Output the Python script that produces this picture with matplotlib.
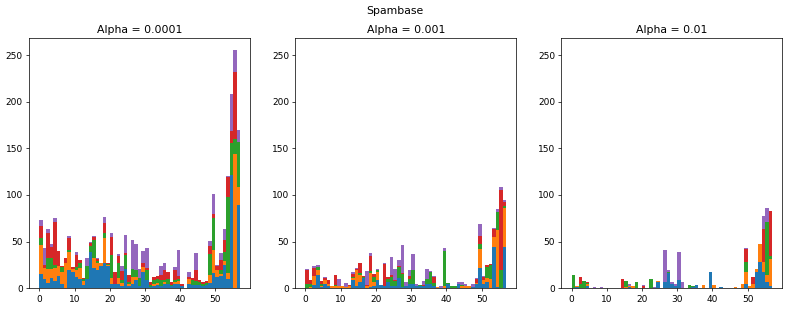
import numpy as np
import matplotlib
matplotlib.use('Agg')
import matplotlib.pyplot as plt

features = np.arange(57)
alphas = ['0.0001', '0.001', '0.01']

# alpha = 0.0001
p1_blue = [15,10,6,11,8, 13,5,0,20,18, 12,10,4,10,39, 22,20,24,27,24, 5,5,5,2,21, 3,5,9,2,18, 9,1,3,4,3, 5,5,2,5,5, 2,0,5,4,4, 4,3,4,6,16, 12,13,25,10,121, 0,89]
p1_orange = [31,12,15,10,14, 11,13,27,19,3, 8,12,4,0,0, 10,7,3,27,1, 6,0,6,4,0, 2,7,3,0,5, 0,0,2,2,0, 2,0,1,2,3, 1,0,5,0,0, 0,0,0,8,25, 8,2,4,6,0, 144,20]
p1_green = [8,0,11,11,3, 0,5,0,2,0, 3,5,2,14,6, 20,2,0,5,1, 25,0,16,3,15, 2,9,8,9,0, 11,3,4,4,6, 2,5,1,2,2, 0,0,0,5,4, 3,2,2,23,34, 0,5,10,82,35, 16,48]
p1_red = [13,3,27,12,46, 16,1,6,13,2, 13,3,1,0,4, 3,2,0,11,1, 19,13,8,10,2, 7,0,0,0,4, 2,3,3,3,5, 11,7,3,11,3, 2,0,2,2,12, 2,2,2,8,5, 4,10,13,21,13, 72,0]
p1_purple = [6,18,5,4,4, 0,0,0,2,0, 3,0,0,8,1, 1,1,0,6,0, 4,0,2,5,19, 0,31,28,10,13, 21,0,0,0,10, 7,1,0,3,28, 0,0,6,0,18, 0,0,0,6,21, 1,8,12,1,39, 23,13]

# alpha = 0.001
p2_blue = [0,0,4,14,1, 5,3,0,0,0, 0,0,0,9,2, 7,11,0,1,2, 9,4,2,7,2, 2,11,1,2,5, 5,2,3,2,5, 5,2,0,0,0, 5,0,0,5,0, 0,0,1,5,22, 5,7,0,44,1, 0,44]
p2_orange = [0,1,9,6,1, 4,2,2,2,2, 2,1,2,2,18, 7,0,2,15,5, 9,0,0,0,0, 0,0,0,0,0, 0,0,0,0,0, 0,1,1,0,2, 0,0,0,0,2, 2,2,0,1,20, 4,4,10,11,62, 0,42]
p2_green = [5,4,0,3,3, 0,0,0,2,0, 0,0,1,1,0, 2,1,0,3,5, 2,0,0,3,10, 6,12,14,0,5, 15,0,1,0,5, 13,3,0,0,38, 1,2,2,0,2, 1,1,0,0,6, 0,12,15,0,19, 20,2]
p2_red = [15,4,9,0,3, 2,4,0,10,0, 0,0,1,3,1, 11,1,2,16,3, 0,0,24,2,2, 1,1,1,0,3, 0,0,0,2,0, 0,6,0,0,0, 0,0,0,0,0, 0,0,0,4,8, 3,2,1,9,0, 85,4]
p2_purple = [1,0,2,2,0, 1,0,1,0,8, 0,5,0,2,1, 0,0,15,3,0, 1,0,1,0,20, 12,6,30,5,7, 17,3,0,4,11, 1,1,0,2,3, 0,0,0,2,3, 2,0,4,1,13, 1,0,0,1,3, 4,3]

# alpha = 0.01
p3_blue = [0,1,0,0,3, 0,0,0,0,0, 0,0,0,0,0, 0,1,0,0,0, 0,0,0,0,7, 0,7,16,5,3, 9,0,0,0,1, 4,0,0,0,18, 0,0,1,0,0, 0,0,0,0,5, 0,0,18,28,18, 7,2]
p3_orange = [0,1,0,0,2, 0,0,0,0,0, 0,0,0,0,0, 1,2,2,0,0, 0,0,0,0,1, 0,0,0,0,0, 0,0,0,0,0, 0,0,4,0,0, 4,0,0,0,0, 0,1,0,5,12, 3,5,3,19,10, 7,29]
p3_green = [14,0,5,8,1, 0,0,0,0,0, 0,0,0,0,0, 7,0,0,7,0, 0,0,10,0,0, 0,0,2,0,0, 0,0,0,4,1, 0,0,0,0,0, 0,0,0,0,0, 0,0,0,0,11, 0,0,0,0,0, 57,4]
p3_red = [0,0,7,0,1, 0,0,0,0,0, 0,0,0,0,10, 0,0,1,0,0, 3,0,0,0,0, 0,0,0,0,0, 0,0,0,0,0, 0,0,0,0,0, 0,0,0,0,0, 0,0,0,0,14, 0,7,0,0,36, 0,48]
p3_purple = [0,0,0,0,0, 0,1,0,1,0, 0,0,0,0,0, 0,2,0,0,0, 1,0,0,1,0, 0,34,2,2,2, 30,7,0,0,0, 0,0,0,0,0, 0,0,0,0,0, 0,0,0,0,1, 0,0,0,0,14, 15,0]

panels = [
    [p1_blue, p1_orange, p1_green, p1_red, p1_purple],
    [p2_blue, p2_orange, p2_green, p2_red, p2_purple],
    [p3_blue, p3_orange, p3_green, p3_red, p3_purple],
]
colors = ['C0', 'C1', 'C2', 'C3', 'C4']

dpi = 65
fig, axes = plt.subplots(1, 3, figsize=(789 / dpi, 310 / dpi), dpi=dpi, sharey=True)
fig.subplots_adjust(left=0.0371, right=0.9916, bottom=0.07, top=0.876, wspace=0.2046)

for ax, series, alpha in zip(axes, panels, alphas):
    bottom = np.zeros(len(features))
    for vals, c in zip(series, colors):
        ax.bar(features, vals, width=1.0, align='edge', bottom=bottom, color=c)
        bottom += np.array(vals)
    ax.set_title('Alpha = ' + alpha)
    ax.set_xticks([0, 10, 20, 30, 40, 50])
    ax.tick_params(labelleft=True)

fig.suptitle('Spambase')
fig.savefig('out.png', dpi=dpi)
